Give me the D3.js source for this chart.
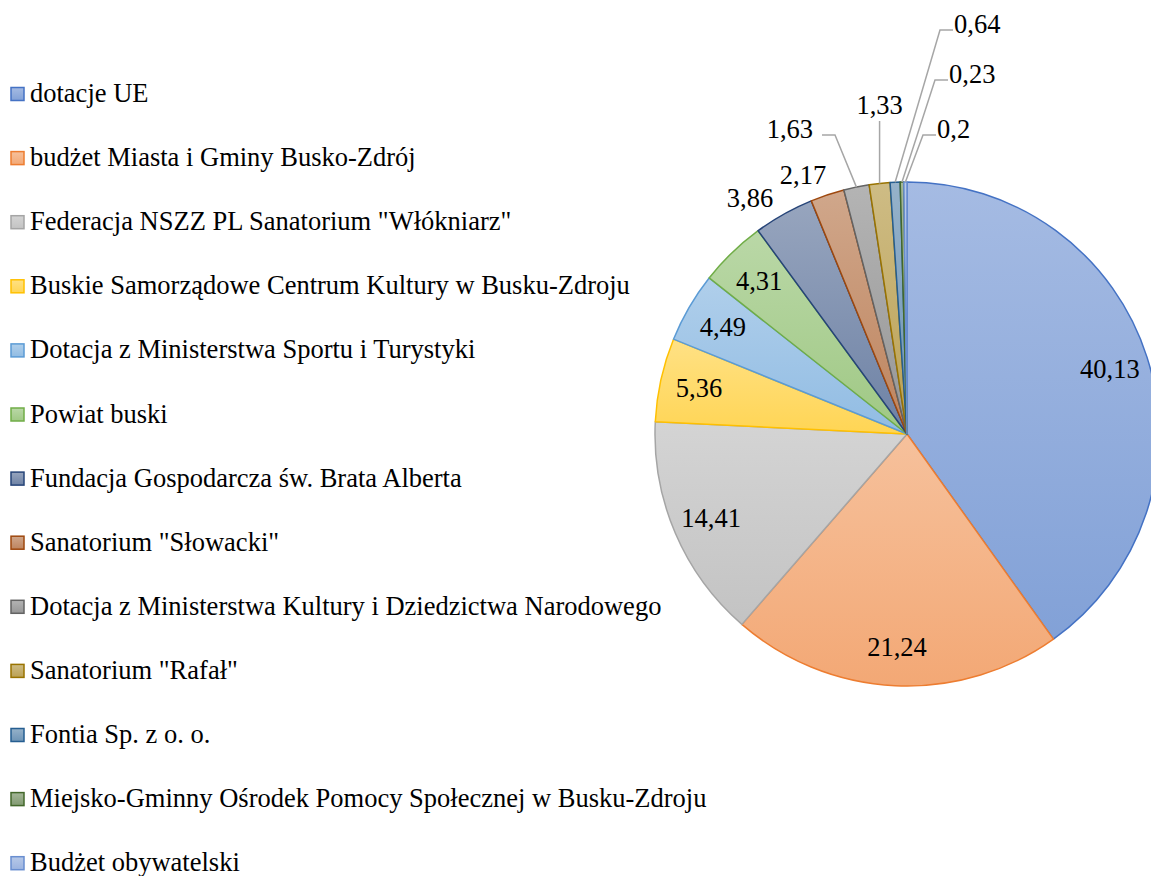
<!DOCTYPE html>
<html>
<head>
<meta charset="utf-8">
<script src="https://cdn.jsdelivr.net/npm/d3@7"></script>
</head>
<body style="margin:0">
<script>
var categories = [
    "dotacje UE",
    "budżet Miasta i Gminy Busko-Zdrój",
    "Federacja NSZZ PL Sanatorium \"Włókniarz\"",
    "Buskie Samorządowe Centrum Kultury w Busku-Zdroju",
    "Dotacja z Ministerstwa Sportu i Turystyki",
    "Powiat buski",
    "Fundacja Gospodarcza św. Brata Alberta",
    "Sanatorium \"Słowacki\"",
    "Dotacja z Ministerstwa Kultury i Dziedzictwa Narodowego",
    "Sanatorium \"Rafał\"",
    "Fontia Sp. z o. o.",
    "Miejsko-Gminny Ośrodek Pomocy Społecznej w Busku-Zdroju",
    "Budżet obywatelski"
];
var values = [40.13, 21.24, 14.41, 5.36, 4.49, 4.31, 3.86, 2.17, 1.63, 1.33, 0.64, 0.23, 0.2];
var labels = ["40,13", "21,24", "14,41", "5,36", "4,49", "4,31", "3,86", "2,17", "1,63", "1,33", "0,64", "0,23", "0,2"];
var colors = ["#4472C4", "#ED7D31", "#A5A5A5", "#FFC000", "#5B9BD5", "#70AD47",
              "#264478", "#9E480E", "#636363", "#997300", "#255E91", "#43682B", "#698ED0"];

var width = 1151, height = 876;
var cx = 907, cy = 434, radius = 252;

var svg = d3.select("body").append("svg")
    .attr("width", width).attr("height", height);

function addText(sel, x, y, str) {
    return sel.append("text")
        .attr("x", x).attr("y", y)
        .style("font-family", "'Liberation Serif', 'Times New Roman', Tinos, FreeSerif")
        .style("font-size", "26.5px")
        .text(str);
}

// gradient fills like the excel style
var defs = svg.append("defs");
colors.forEach(function(c, i) {
    var g = defs.append("linearGradient").attr("id", "g" + i)
        .attr("x1", 0).attr("y1", 0).attr("x2", 0).attr("y2", 1);
    g.append("stop").attr("offset", "0%").attr("stop-color", d3.interpolateRgb(c, "#fff")(0.52));
    g.append("stop").attr("offset", "100%").attr("stop-color", d3.interpolateRgb(c, "#fff")(0.33));
});

var pie = d3.pie().sort(null).value(function(d) { return d; });
var arcs = pie(values);
var arc = d3.arc().innerRadius(0).outerRadius(radius);
var labelArc = d3.arc().innerRadius(213).outerRadius(213);

var g = svg.append("g").attr("transform", "translate(" + cx + "," + cy + ")");

g.selectAll("path.slice")
    .data(arcs)
    .enter().append("path")
    .attr("class", "slice")
    .attr("d", arc)
    .attr("fill", function(d, i) { return "url(#g" + i + ")"; })
    .attr("stroke", function(d, i) { return colors[i]; })
    .attr("stroke-width", 1.5)
    .attr("stroke-linejoin", "round");

// labels inside big slices
arcs.slice(0, 6).forEach(function(d, i) {
    var p = labelArc.centroid(d);
    addText(g, p[0], p[1] + 9, labels[i])
        .attr("text-anchor", "middle");
});

// small slices: labels outside, some with leader lines (offsets from the centre)
var outside = {
    6:  { tx: -157, ty: -236 },
    7:  { tx: -104, ty: -259 },
    8:  { ex: -72, ey: -299, side: -1 },
    9:  { ey: -313, vertical: true },
    10: { ex: 33, ey: -404, side: 1 },
    11: { ex: 28, ey: -354, side: 1 },
    12: { ex: 16, ey: -299, side: 1 }
};

d3.range(6, values.length).forEach(function(i) {
    var o = outside[i];
    var d = arcs[i];
    var mid = (d.startAngle + d.endAngle) / 2;
    var ax = radius * Math.sin(mid), ay = -radius * Math.cos(mid);
    if (o.tx !== undefined) {
        addText(g, o.tx, o.ty + 9, labels[i]).attr("text-anchor", "middle");
        return;
    }
    if (o.vertical) {
        g.append("path")
            .attr("d", "M" + ax + "," + ay + "L" + ax + "," + o.ey)
            .attr("fill", "none").attr("stroke", "#a6a6a6").attr("stroke-width", 1.5);
        addText(g, ax, o.ey - 7, labels[i]).attr("text-anchor", "middle");
        return;
    }
    var hx = o.ex + o.side * 13;
    g.append("path")
        .attr("d", "M" + ax + "," + ay + "L" + o.ex + "," + o.ey + "L" + hx + "," + o.ey)
        .attr("fill", "none").attr("stroke", "#a6a6a6").attr("stroke-width", 1.5);
    addText(g, hx + o.side * (o.side < 0 ? 9 : 1), o.ey + 3, labels[i])
        .attr("text-anchor", o.side < 0 ? "end" : "start");
});

// legend
var legend = svg.append("g");
var rowY = d3.scaleLinear().domain([0, 1]).range([94, 94 + 64.1]);
categories.forEach(function(name, i) {
    var y = rowY(i);
    legend.append("rect")
        .attr("x", 11).attr("y", y - 6.5)
        .attr("width", 13).attr("height", 13)
        .attr("fill", "url(#g" + i + ")")
        .attr("stroke", colors[i]).attr("stroke-width", 1.5);
    addText(legend, 30, y + 8, name);
});
</script>
</body>
</html>
